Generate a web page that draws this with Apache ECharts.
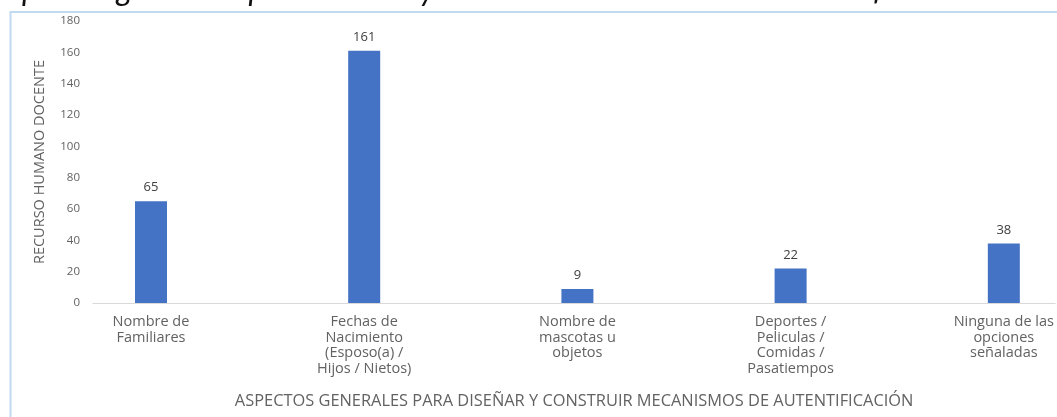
<!DOCTYPE html>
<html>
<head>
<meta charset="utf-8">
<script src="https://cdn.jsdelivr.net/npm/echarts@6/dist/echarts.min.js"></script>
<style>
  html, body { margin: 0; padding: 0; background: #ffffff; }
  #chart { width: 1057px; height: 417px; }
</style>
</head>
<body>
<div id="chart"></div>
<script>
// Survey categories (x axis) and number of teaching staff per option
const categories = [
  'Nombre de\nFamiliares',
  'Fechas de\nNacimiento\n(Esposo(a) /\nHijos / Nietos)',
  'Nombre de\nmascotas u\nobjetos',
  'Deportes /\nPeliculas /\nComidas /\nPasatiempos',
  'Ninguna de las\nopciones\nseñaladas'
];
const respondents = [65, 161, 9, 22, 38];
const positions = [0, 1, 2, 3, 4];

const headingText = 'Aspectos generales para diseñar y construir mecanismos de autentificación';
const xAxisTitle = 'ASPECTOS GENERALES PARA DISEÑAR Y CONSTRUIR MECANISMOS DE AUTENTIFICACIÓN';
const yAxisTitle = 'RECURSO HUMANO DOCENTE';

const FONT = '"Open Sans", Lato, sans-serif';
const GREY = '#626262';

const chart = echarts.init(document.getElementById('chart'), null, { renderer: 'canvas' });

chart.setOption({
  animation: false,
  backgroundColor: '#ffffff',
  textStyle: { fontFamily: FONT },
  graphic: [
    {
      type: 'rect',
      silent: true,
      z: -1,
      shape: { x: 10.5, y: 12, width: 1200, height: 600 },
      style: { fill: 'none', stroke: '#c2daf0', lineWidth: 2 }
    },
    {
      type: 'text',
      silent: true,
      x: -11,
      y: 6,
      style: {
        text: headingText,
        font: 'italic 32px Lato, sans-serif',
        fill: '#111111',
        verticalAlign: 'bottom',
        align: 'left'
      }
    }
  ],
  grid: { left: 93, right: 0, top: 21, bottom: 114, containLabel: false },
  xAxis: {
    type: 'value',
    min: -0.272,
    max: 4.241,
    splitLine: { show: false },
    axisTick: { show: false },
    axisLine: { show: true, lineStyle: { color: '#d9d9d9', width: 1 } },
    axisLabel: {
      customValues: positions,
      formatter: (v) => categories[Math.round(v)],
      color: GREY,
      fontSize: 14.5,
      lineHeight: 15.7,
      margin: 11,
      align: 'center',
      fontFamily: FONT
    },
    name: xAxisTitle,
    nameLocation: 'middle',
    nameGap: 90,
    nameTextStyle: { color: GREY, fontSize: 16.4, fontFamily: FONT }
  },
  yAxis: {
    type: 'value',
    min: 0,
    max: 180,
    interval: 20,
    axisLine: { show: false },
    axisTick: { show: false },
    splitLine: { show: false },
    axisLabel: { color: GREY, fontSize: 11.5, margin: 13, fontFamily: FONT },
    name: yAxisTitle,
    nameLocation: 'middle',
    nameGap: 46,
    nameTextStyle: { color: GREY, fontSize: 14.5, fontFamily: FONT }
  },
  series: [
    {
      type: 'bar',
      data: respondents.map((v, i) => [positions[i], v]),
      barWidth: 32,
      itemStyle: { color: '#4472c4' },
      label: {
        show: true,
        position: 'top',
        distance: 7,
        color: '#404040',
        fontSize: 13,
        fontFamily: FONT
      }
    }
  ]
});
</script>
</body>
</html>
